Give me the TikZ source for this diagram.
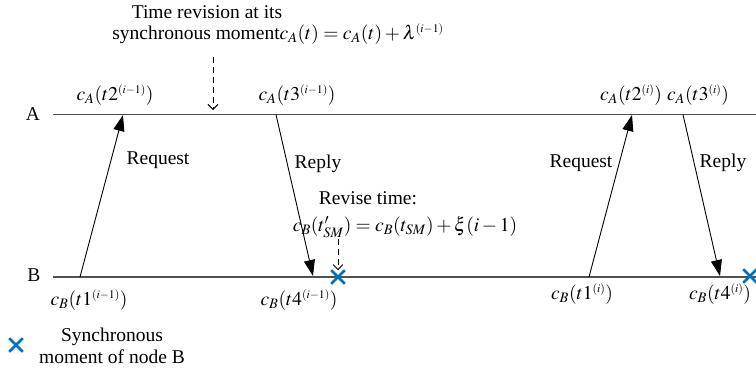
\documentclass[tikz,border=0pt]{standalone}
\usepackage{mathptmx}
\usepackage[no-math]{fontspec}
\setmainfont{Liberation Serif}
\usetikzlibrary{arrows.meta,shapes.misc}
\definecolor{xblue}{RGB}{0,112,192}
\definecolor{lgray}{RGB}{80,80,80}
\newcommand{\sps}[1]{^{\scriptscriptstyle #1}}
\tikzset{
  timeline/.style={draw=lgray,line width=1.3pt},
  msg/.style={draw=black,line width=0.9pt,-{Triangle[length=16pt,width=11pt]}},
  dasharrow/.style={draw=black,line width=0.9pt,dash pattern=on 6pt off 4pt,-{Straight Barb[length=5pt,width=10pt]}},
  crossmark/.style={cross out,draw=xblue,line width=2.6pt,minimum size=11pt,inner sep=0pt},
  lbl/.style={inner sep=0pt,anchor=center},
}
\begin{document}
\begin{tikzpicture}[x=1pt,y=-1pt,font=\fontsize{19.5}{22}\selectfont]
\useasboundingbox (0,0) rectangle (756,373);
% timelines
\coordinate (A0) at (53,114.5);
\coordinate (A1) at (760,114.5);
\coordinate (B0) at (53,277);
\coordinate (B1) at (760,277);
\draw[timeline] (A0) -- (A1);
\draw[timeline] (B0) -- (B1);
\node[lbl] (Alab) at (33,114) {A};
\node[lbl] (Blab) at (34,275) {B};
% message end points
\coordinate (q1s) at (80,277);
\coordinate (q1e) at (123,115);
\coordinate (p1s) at (276,114.5);
\coordinate (p1e) at (313,276);
\coordinate (q2s) at (589,277);
\coordinate (q2e) at (632,115);
\coordinate (p2s) at (683,114.5);
\coordinate (p2e) at (720,276);
\draw[msg] (q1s) -- (q1e);
\draw[msg] (p1s) -- (p1e);
\draw[msg] (q2s) -- (q2e);
\draw[msg] (p2s) -- (p2e);
% crosses
\node[crossmark] (x1) at (338,277) {};
\node[crossmark] (x2) at (750,276) {};
\node[crossmark] (x0) at (16,345) {};
% labels on A
\node[lbl] (a2) at (115,95) {$c_A(t2\sps{(i-1)})$};
\node[lbl] (a3) at (297,95) {$c_A(t3\sps{(i-1)})$};
\node[lbl] (a2i) at (631,95) {$c_A(t2\sps{(i)})$};
\node[lbl] (a3i) at (698,95) {$c_A(t3\sps{(i)})$};
% labels on B
\node[lbl] (b1) at (89,300) {$c_B(t1\sps{(i-1)})$};
\node[lbl] (b4) at (299,300) {$c_B(t4\sps{(i-1)})$};
\node[lbl] (b1i) at (582,294) {$c_B(t1\sps{(i)})$};
\node[lbl] (b4i) at (720,294) {$c_B(t4\sps{(i)})$};
% message labels
\node[lbl] (req1) at (158,160) {Request};
\node[lbl] (rep1) at (318,164) {Reply};
\node[lbl] (req2) at (581,163) {Request};
\node[lbl] (rep2) at (723,163) {Reply};
% top annotation
\node[lbl] (t1) at (207,12) {Time revision at its};
\node[lbl] (t2) at (278,34) {synchronous moment$c_A(t)=c_A(t)+\lambda\sps{(i-1)}$};
\coordinate (d1s) at (213,57);
\coordinate (d1e) at (213,110);
\draw[dasharrow] (d1s) -- (d1e);
% revise annotation
\node[lbl] (r1) at (368,198) {Revise time:};
\node[lbl] (r2) at (405,227) {$c_B(t'_{SM})=c_B(t_{SM})+\xi(i-1)$};
\coordinate (d2s) at (338,239);
\draw[dasharrow] (d2s) -- (x1.north);
% legend
\node[lbl,align=center] (leg) at (112,346) {Synchronous\\moment of node B};
\end{tikzpicture}
\end{document}
